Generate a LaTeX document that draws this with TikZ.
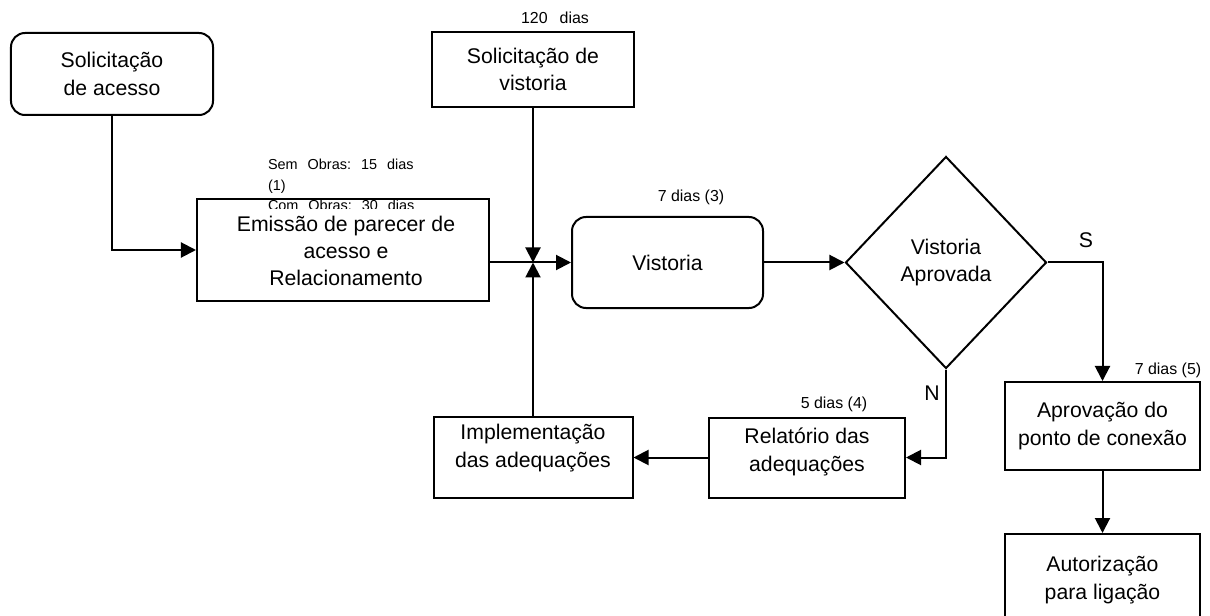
\documentclass[tikz,border=0pt]{standalone}
\usepackage{fontspec}
\setmainfont{Liberation Sans}
\usetikzlibrary{shapes.geometric, positioning, arrows.meta}

\begin{document}
\begin{tikzpicture}[x=1bp, y=-1bp, line width=2bp,
    caixa/.style={draw, fill=white, align=center, inner sep=0pt, font=\fontsize{21.3}{27.5}\selectfont},
    arred/.style={caixa, rounded corners=14bp},
    texto/.style={align=center, inner sep=0pt, font=\fontsize{21.3}{27.5}\selectfont},
    prazo/.style={inner sep=0pt, font=\fontsize{16}{20.5}\selectfont},
    obs/.style={inner sep=0pt, align=left, font=\fontsize{14.5}{20.5}\selectfont},
    rotulo/.style={inner sep=0pt, font=\fontsize{21.3}{24}\selectfont},
    seta/.style={-{Triangle[length=15bp, width=15bp]}}]
    \useasboundingbox (0,0) rectangle (1210,616);

    % caixas
    \node[arred, minimum width=202bp, minimum height=82bp] (solacesso) at (112,74) {Solicita\c{c}\~ao\\de acesso};
    \node[caixa, minimum width=202bp, minimum height=75bp] (solvist) at (533,69.5) {Solicita\c{c}\~ao de\\vistoria};
    \node[caixa, minimum width=292bp, minimum height=102bp] (emissao) at (343,250) {};
    \node[arred, minimum width=191bp, minimum height=91bp] (vistoria) at (667.5,262.5) {Vistoria};
    \node[caixa, diamond, minimum width=201bp, minimum height=212bp] (decisao) at (946,262.5) {Vistoria\\Aprovada};
    \node[caixa, minimum width=199bp, minimum height=81bp] (impl) at (533,457.5) {};
    \node[caixa, minimum width=196bp, minimum height=80bp] (relatorio) at (807,457.5) {};
    \node[caixa, minimum width=195bp, minimum height=88bp] (aprovacao) at (1102.5,426) {Aprova\c{c}\~ao do\\ponto de conex\~ao};
    \node[caixa, minimum width=195bp, minimum height=92bp] (autoriz) at (1102.5,580) {Autoriza\c{c}\~ao\\para liga\c{c}\~ao};

    % textos e prazos
    \begin{scope}
        \clip (0,0) rectangle (1210,209);
        \node[obs, anchor=north west] (obras) at (267,158.5)
            {Sem\hspace{10bp}Obras:\hspace{10bp}15\hspace{10bp}dias\\(1)\\Com\hspace{10bp}Obras:\hspace{10bp}30\hspace{10bp}dias};
    \end{scope}
    \node[texto] (emissaotxt) at (346,251) {Emiss\~ao de parecer de\\acesso e\\Relacionamento};
    \node[texto] (impltxt) at (533,448) {Implementa\c{c}\~ao\\das adequa\c{c}\~oes};
    \node[texto] (reltxt) at (807,452) {Relat\'orio das\\adequa\c{c}\~oes};
    \node[prazo] (p120) at (555,18) {120\hspace{12bp}dias};
    \node[prazo] (p3) at (691,197) {7 dias (3)};
    \node[prazo] (p4) at (834,404) {5 dias (4)};
    \node[prazo] (p5) at (1168,370) {7 dias (5)};
    \node[rotulo] (lblS) at (1086,240) {S};
    \node[rotulo] (lblN) at (932,393) {N};

    % ligacoes
    \coordinate (junc) at (533,262.5);
    \draw[seta] (solacesso) |- (emissao);
    \draw[seta] (solvist) -- (junc);
    \draw[seta] (impl) -- (junc);
    \draw[seta] (emissao.east |- vistoria) -- (vistoria);
    \draw[seta] (vistoria) -- (decisao);
    \draw[seta] (decisao.east) -| (aprovacao.north);
    \draw[seta] (decisao.south) |- (relatorio.east);
    \draw[seta] (relatorio) -- (impl);
    \draw[seta] (aprovacao) -- (autoriz);
\end{tikzpicture}
\end{document}
